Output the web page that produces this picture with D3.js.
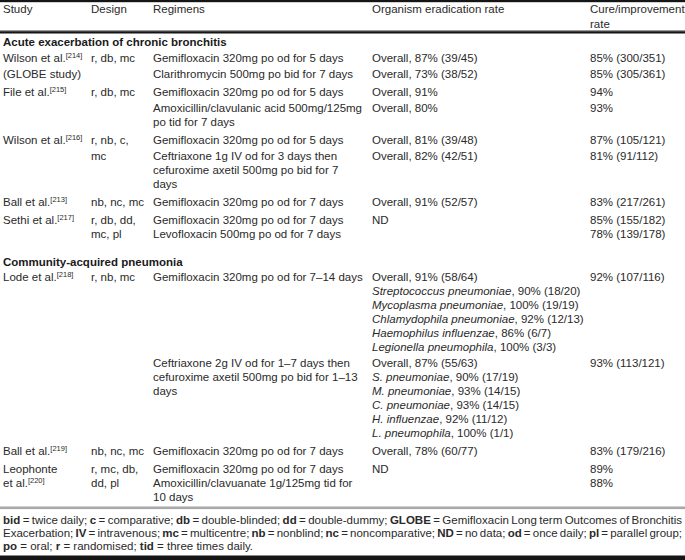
<!DOCTYPE html>
<html><head><meta charset="utf-8">
<script src="https://cdn.jsdelivr.net/npm/d3@7"></script>
<style>html,body{margin:0;padding:0;background:#fff;} svg{display:block;}</style>
</head><body><svg id="c" width="685" height="560"></svg>
<script>
// ---------- DATA ----------
const headers = [["Study"], ["Design"], ["Regimens"], ["Organism eradication rate"], ["Cure/improvement", "rate"]];
const sectionTitles = ["Acute exacerbation of chronic bronchitis", "Community-acquired pneumonia"];
const studySection = [0, 0, 0, 0, 0, 1, 1, 1];
const studyNames = [
  ["Wilson et al.^[214]", "(GLOBE study)"],
  ["File et al.^[215]"],
  ["Wilson et al.^[216]"],
  ["Ball et al.^[213]"],
  ["Sethi et al.^[217]"],
  ["Lode et al.^[218]"],
  ["Ball et al.^[219]"],
  ["Leophonte", "et al.^[220]"]
];
const designs = [
  ["r, db, mc"], ["r, db, mc"], ["r, nb, c,", "mc"], ["nb, nc, mc"],
  ["r, db, dd,", "mc, pl"], ["r, nb, mc"], ["nb, nc, mc"], ["r, mc, db,", "dd, pl"]
];
const regimens = [
  [["Gemifloxacin 320mg po od for 5 days"], ["Clarithromycin 500mg po bid for 7 days"]],
  [["Gemifloxacin 320mg po od for 5 days"], ["Amoxicillin/clavulanic acid 500mg/125mg", "po tid for 7 days"]],
  [["Gemifloxacin 320mg po od for 5 days"], ["Ceftriaxone 1g IV od for 3 days then", "cefuroxime axetil 500mg po bid for 7", "days"]],
  [["Gemifloxacin 320mg po od for 7 days"]],
  [["Gemifloxacin 320mg po od for 7 days", "Levofloxacin 500mg po od for 7 days"]],
  [["Gemifloxacin 320mg po od for 7–14 days"], ["Ceftriaxone 2g IV od for 1–7 days then", "cefuroxime axetil 500mg po bid for 1–13", "days"]],
  [["Gemifloxacin 320mg po od for 7 days"]],
  [["Gemifloxacin 320mg po od for 7 days", "Amoxicillin/clavuanate 1g/125mg tid for", "10 days"]]
];
const eradication = [
  [["Overall, 87% (39/45)"], ["Overall, 73% (38/52)"]],
  [["Overall, 91%"], ["Overall, 80%"]],
  [["Overall, 81% (39/48)"], ["Overall, 82% (42/51)"]],
  [["Overall, 91% (52/57)"]],
  [["ND"]],
  [["Overall, 91% (58/64)", "*Streptococcus pneumoniae*, 90% (18/20)", "*Mycoplasma pneumoniae*, 100% (19/19)",
    "*Chlamydophila pneumoniae*, 92% (12/13)", "*Haemophilus influenzae*, 86% (6/7)", "*Legionella pneumophila*, 100% (3/3)"],
   ["Overall, 87% (55/63)", "*S. pneumoniae*, 90% (17/19)", "*M. pneumoniae*, 93% (14/15)",
    "*C. pneumoniae*, 93% (14/15)", "*H. influenzae*, 92% (11/12)", "*L. pneumophila*, 100% (1/1)"]],
  [["Overall, 78% (60/77)"]],
  [["ND"]]
];
const cureRates = [
  [["85% (300/351)"], ["85% (305/361)"]],
  [["94%"], ["93%"]],
  [["87% (105/121)"], ["81% (91/112)"]],
  [["83% (217/261)"]],
  [["85% (155/182)", "78% (139/178)"]],
  [["92% (107/116)"], ["93% (113/121)"]],
  [["83% (179/216)"]],
  [["89%", "88%"]]
];
const footnotes = [
  "**bid** = twice daily; **c** = comparative; **db** = double-blinded; **dd** = double-dummy; **GLOBE** = Gemifloxacin Long term Outcomes of Bronchitis",
  "Exacerbation; **IV** = intravenous; **mc** = multicentre; **nb** = nonblind; **nc** = noncomparative; **ND** = no data; **od** = once daily; **pl** = parallel group;",
  "**po** = oral; **r** = randomised; **tid** = three times daily."
];

// ---------- LAYOUT ----------
const W = 685, H = 560;
const FS = 11.5, LH = 14, SUBGAP = 2, ROWGAP = 4, SECTIONGAP = 10, TITLEGAP = 15.5, BASE = 4;
const TEXT = "#2a2a2a";
const svg = d3.select("#c").style("font-family", "'Liberation Sans', Arial, Helvetica, sans-serif").style("font-size", FS + "px");
const colX = d3.scaleOrdinal().domain(d3.range(5)).range([3, 91, 153, 372, 590]);
const y = d3.scaleLinear().domain([0, H]).range([0, H]);

function rich(t, str) {
  const re = /(\*\*[^*]+\*\*|\*[^*]+\*|\^\[[^\]]+\])/g;
  str.split(re).filter(s => s && s.length).forEach(s => {
    const sp = t.append("tspan");
    if (s.startsWith("**")) sp.attr("font-weight", "bold").text(s.slice(2, -2));
    else if (s.startsWith("*")) sp.attr("font-style", "italic").text(s.slice(1, -1));
    else if (s.startsWith("^")) sp.attr("font-size", 7.5).attr("dy", -4).text(s.slice(1));
    else sp.text(s);
  });
  return t;
}

const cells = [];
const sectionY = [];
let cur = 42;
regimens.forEach((subs, i) => {
  if (i === 0 || studySection[i] !== studySection[i - 1]) {
    if (i > 0) cur += SECTIONGAP;
    sectionY.push(cur);
    cur += TITLEGAP;
  }
  const slots = [];
  subs.forEach((reg, j) => {
    if (j > 0) cur += SUBGAP;
    const org = eradication[i][j], cr = cureRates[i][j];
    const n = Math.max(reg.length, org.length, cr.length);
    reg.forEach((s, k) => cells.push({ col: 2, cy: cur + k * LH, s }));
    org.forEach((s, k) => cells.push({ col: 3, cy: cur + k * LH, s }));
    cr.forEach((s, k) => cells.push({ col: 4, cy: cur + k * LH, s }));
    for (let k = 0; k < n; k++) slots.push(cur + k * LH);
    cur += n * LH;
  });
  studyNames[i].forEach((s, k) => cells.push({ col: 0, cy: slots[k], s }));
  designs[i].forEach((s, k) => cells.push({ col: 1, cy: slots[k], s }));
  cur += ROWGAP;
});

// rules
const ruleData = [
  { y: 0, h: 2.2, c: "#151515" },
  { y: 30, h: 1, c: "#9a9a9a" },
  { y: 31.2, h: 2.3, c: "#151515" },
  { y: cur - 8.5, h: 2.6, c: "#a8a8a8" },
  { y: H - 4.5, h: 4.5, c: "#151515" }
];
svg.selectAll("rect.rule").data(ruleData).join("rect").attr("class", "rule")
  .attr("x", 0).attr("width", W).attr("y", d => y(d.y)).attr("height", d => d.h).attr("fill", d => d.c);

// header
headers.forEach((lines, c) => lines.forEach((s, k) => {
  svg.append("text").attr("x", colX(c)).attr("y", y(9 + k * 15 + BASE)).attr("fill", TEXT).text(s);
}));

// section titles
sectionTitles.forEach((s, i) => {
  svg.append("text").attr("x", colX(0)).attr("y", y(sectionY[i] + BASE)).attr("fill", "#1a1a1a")
    .attr("font-weight", "bold").text(s);
});

// body cells
cells.forEach(d => {
  rich(svg.append("text").attr("x", colX(d.col)).attr("y", y(d.cy + BASE)).attr("fill", TEXT), d.s);
});

// footnotes
const fnTop = cur - 8.5 + 13;
footnotes.forEach((s, k) => {
  const t = rich(svg.append("text").attr("x", colX(0)).attr("y", y(fnTop + k * 13 + BASE)).attr("fill", TEXT), s);
  if (k < footnotes.length - 1) {
    const len = t.node().getComputedTextLength();
    const spaces = (s.replace(/\*/g, "").match(/ /g) || []).length;
    const extra = (682 - colX(0) - len) / spaces;
    t.style("word-spacing", extra + "px");
  }
});
</script></body></html>
